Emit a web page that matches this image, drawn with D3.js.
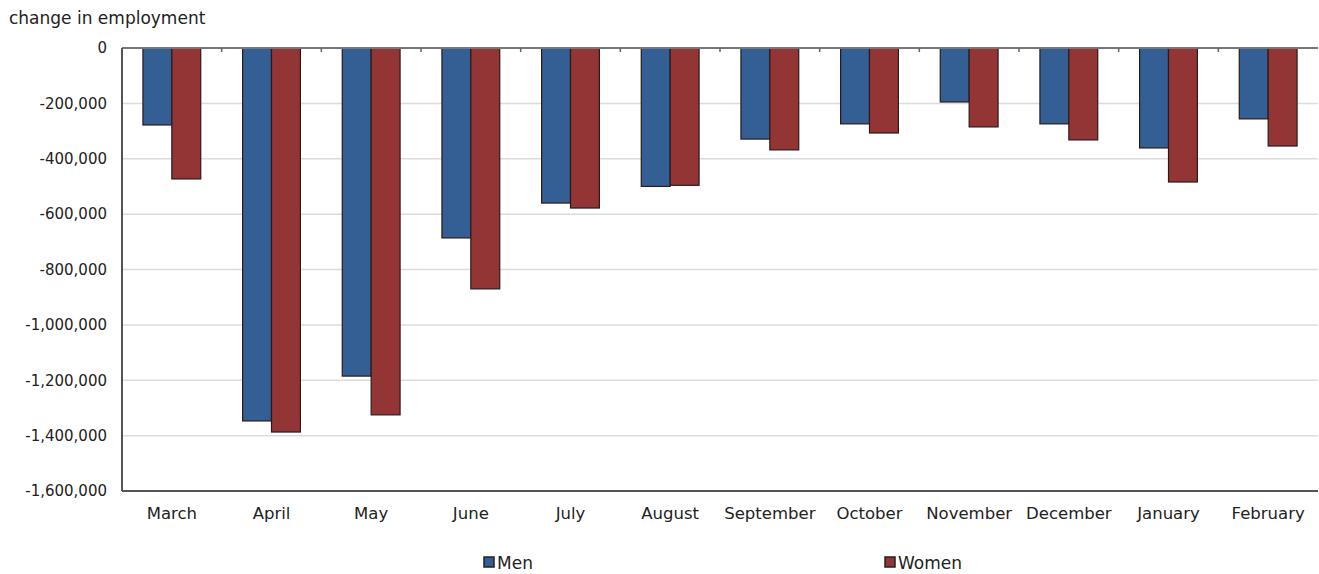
<!DOCTYPE html>
<html>
<head>
<meta charset="utf-8">
<script src="https://cdn.jsdelivr.net/npm/d3@7"></script>
<style>
	body { margin: 0; background: #fff; }
	svg text { font-family: "DejaVu Sans", Verdana, sans-serif; fill: #222; }
</style>
</head>
<body>
<svg id="chart" width="1319" height="574"></svg>
<script>
// months shown on the x axis
var months = ["March", "April", "May", "June", "July", "August", "September",
	"October", "November", "December", "January", "February"];
// change in employment
var men = [-278000, -1347000, -1185000, -686000, -560000, -500000, -329000,
	-274000, -195000, -274000, -361000, -256000];
var women = [-473000, -1387000, -1325000, -870000, -578000, -496000, -368000,
	-307000, -285000, -332000, -484000, -354000];
var yTicks = [0, -200000, -400000, -600000, -800000, -1000000, -1200000, -1400000, -1600000];
var seriesNames = ["Men", "Women"];
var colors = {Men: "#335f95", Women: "#943535"};

var svg = d3.select("#chart");
var margin = {left: 122, top: 48, right: 1, bottom: 83};
var width = 1319 - margin.left - margin.right;
var height = 574 - margin.top - margin.bottom;

var g = svg.append("g")
	.attr("transform", "translate(" + margin.left + "," + margin.top + ")");

var x = d3.scaleBand().domain(months).range([0, width]).paddingInner(0).paddingOuter(0);
var xs = d3.scaleBand().domain(seriesNames).range([x.bandwidth() * 0.21, x.bandwidth() * 0.79]);
var y = d3.scaleLinear().domain([-1600000, 0]).range([height, 0]);

// gridlines
g.selectAll(".grid")
	.data(yTicks.filter(d => d !== 0 && d !== -1600000))
	.enter().append("line")
	.attr("x1", 0).attr("x2", width)
	.attr("y1", d => y(d)).attr("y2", d => y(d))
	.attr("stroke", "#dcdcdc").attr("stroke-width", 1.5);

// y axis labels
var fmt = d3.format(",");
g.selectAll(".ylab")
	.data(yTicks)
	.enter().append("text")
	.attr("x", -15)
	.attr("y", d => y(d))
	.attr("dy", "0.35em")
	.attr("text-anchor", "end")
	.style("font-size", "15px")
	.text(d => d === 0 ? "0" : "-" + fmt(-d));

// bars
var data = [];
months.forEach(function(m, i){
	data.push({month: m, s: "Men", v: men[i]});
	data.push({month: m, s: "Women", v: women[i]});
});
g.selectAll(".bar")
	.data(data)
	.enter().append("rect")
	.attr("x", d => x(d.month) + xs(d.s))
	.attr("width", xs.bandwidth())
	.attr("y", y(0))
	.attr("height", d => y(d.v) - y(0))
	.attr("fill", d => colors[d.s])
	.attr("stroke", "#2a1a1a")
	.attr("stroke-width", 1.2);

// axis frame
g.append("line").attr("x1", 0).attr("x2", width).attr("y1", y(0)).attr("y2", y(0))
	.attr("stroke", "#777").attr("stroke-width", 2);
g.append("line").attr("x1", 0).attr("x2", 0).attr("y1", 0).attr("y2", height)
	.attr("stroke", "#555").attr("stroke-width", 2);
g.append("line").attr("x1", 0).attr("x2", width).attr("y1", height).attr("y2", height)
	.attr("stroke", "#555").attr("stroke-width", 2);

// small ticks between categories on the zero line
g.selectAll(".tick")
	.data(months.slice(1))
	.enter().append("line")
	.attr("x1", d => x(d)).attr("x2", d => x(d))
	.attr("y1", 0).attr("y2", 4)
	.attr("stroke", "#666").attr("stroke-width", 1.5);

// month labels
g.selectAll(".xlab")
	.data(months)
	.enter().append("text")
	.attr("x", d => x(d) + x.bandwidth() / 2)
	.attr("y", height + 28)
	.attr("text-anchor", "middle")
	.style("font-size", "16.5px")
	.text(d => d);

// y axis title
svg.append("text")
	.attr("x", 9).attr("y", 24)
	.style("font-size", "17px")
	.text("change in employment");

// legend
var legendX = {Men: 484, Women: 885};
seriesNames.forEach(function(s){
	svg.append("rect")
		.attr("x", legendX[s]).attr("y", 557)
		.attr("width", 10).attr("height", 10)
		.attr("fill", colors[s])
		.attr("stroke", "#222").attr("stroke-width", 1.5);
	svg.append("text")
		.attr("x", legendX[s] + 13).attr("y", 569)
		.style("font-size", "17px")
		.text(s);
});
</script>
</body>
</html>
